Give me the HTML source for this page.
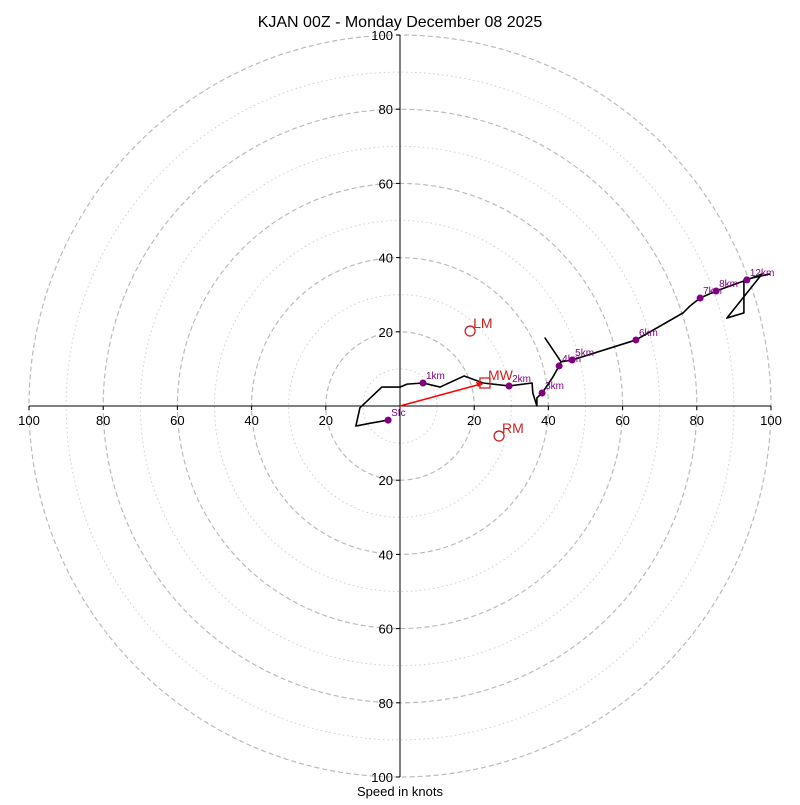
<!DOCTYPE html>
<html><head><meta charset="utf-8"><style>
body{margin:0;background:#fff}
svg{font-family:"Liberation Sans","DejaVu Sans",sans-serif}
</style></head><body>
<svg id="c" width="800" height="800" xmlns="http://www.w3.org/2000/svg">
<text x="400" y="27" text-anchor="middle" font-size="16">KJAN 00Z - Monday December 08 2025</text>
<text x="400" y="796" text-anchor="middle" font-size="13">Speed in knots</text>
</svg>
<script>
const traceU=[-3.2,-7.8,-11.9,-10.8,-4.9,0,1.9,6.2,10.8,17.3,22.4,29.4,35.6,35.8,36.9,36.9,38.3,41.2,42.9,43.4,39.1,43.4,46.4,62.0,63.6,76.3,78.2,80.9,85.2,93.5,97.6,88.1,92.7,92.7,99.7];
const traceV=[-3.8,-4.6,-5.4,-0.5,5.1,5.1,5.9,6.2,5.1,8.1,6.2,5.4,6.2,3.5,0,2.2,3.5,7.8,10.8,11.9,18.3,11.9,12.4,17.3,17.8,25.1,27.0,29.1,31.0,34.0,35.6,23.7,25.1,34.0,35.6];
const markLabels=["Sfc","1km","2km","3km","4km","5km","6km","7km","8km","12km"];
const markU=[-3.2,6.2,29.4,38.3,42.9,46.4,63.6,80.9,85.2,93.5];
const markV=[-3.8,6.2,5.4,3.5,10.8,12.4,17.8,29.1,31.0,34.0];
const ringVals=[10,20,30,40,50,60,70,80,90,100];
const tickVals=[20,40,60,80,100];
const lmUV=[18.9,20.2], rmUV=[26.7,-8.1], mwUV=[22.9,6.2];

const NS="http://www.w3.org/2000/svg", svg=document.getElementById('c');
const cx=400, cy=406, k=3.71;
const X=u=>cx+u*k, Y=v=>cy-v*k;
function mk(t,a){const e=document.createElementNS(NS,t);for(const q in a)e.setAttribute(q,a[q]);svg.appendChild(e);return e;}
ringVals.forEach(r=>{
  const c=mk('circle',{cx:cx,cy:cy,r:r*k,fill:'none',stroke:r%20?'#d0d0d0':'#bbb','stroke-width':r%20?1:1.2,'stroke-dasharray':r%20?'1.5,3':'5,3'});
  
  
});
const ax1=mk('line',{x1:X(-100),y1:cy,x2:X(100),y2:cy,stroke:'#000','stroke-width':1});


const ax2=mk('line',{x1:cx,y1:Y(100),x2:cx,y2:Y(-100),stroke:'#000','stroke-width':1});


tickVals.forEach(t=>{
  [t,-t].forEach(s=>{
    mk('line',{x1:X(s),y1:cy,x2:X(s),y2:cy+4,stroke:'#000'});
    const tx=mk('text',{x:X(s),y:cy+19,'text-anchor':'middle','font-size':13});
    tx.textContent=t;
    
    
    mk('line',{x1:cx-4,y1:Y(s),x2:cx,y2:Y(s),stroke:'#000'});
    const ty=mk('text',{x:cx-7,y:Y(s)+5,'text-anchor':'end','font-size':13});
    ty.textContent=t;
    
    
  });
});
const tr=mk('polyline',{points:traceU.map((u,i)=>X(u)+','+Y(traceV[i])).join(' '),fill:'none',stroke:'#000','stroke-width':1.6,'stroke-linejoin':'round'});


markU.forEach((u,i)=>{
  const d=mk('circle',{cx:X(u),cy:Y(markV[i]),r:3.5,fill:'#800080'});
  
  
  const t=mk('text',{x:X(u)+3,y:Y(markV[i])-4,'font-size':10,fill:'#800080'});
  t.textContent=markLabels[i];
  
  
});
const ar=mk('line',{x1:cx,y1:cy,x2:X(mwUV[0])-4,y2:Y(mwUV[1])+1,stroke:'red','stroke-width':1.5});


mk('polygon',{points:`${X(mwUV[0])},${Y(mwUV[1])} ${X(mwUV[0])-9},${Y(mwUV[1])-1} ${X(mwUV[0])-7},${Y(mwUV[1])+4}`,fill:'red'});
const sq=mk('rect',{x:X(mwUV[0])-5,y:Y(mwUV[1])-5,width:10,height:10,fill:'none',stroke:'#cc2222','stroke-width':1.3});


[[lmUV,'LM'],[rmUV,'RM']].forEach(([p,l])=>{
  const c=mk('circle',{cx:X(p[0]),cy:Y(p[1]),r:5,fill:'none',stroke:'#cc2222','stroke-width':1.3});
  
  
});
[[lmUV,'LM'],[rmUV,'RM'],[mwUV,'MW']].forEach(([p,l])=>{
  const t=mk('text',{x:X(p[0])+3,y:Y(p[1])-3,'font-size':14,fill:'#cc2222'});
  t.textContent=l;
  
  
});
</script>
</body></html>
